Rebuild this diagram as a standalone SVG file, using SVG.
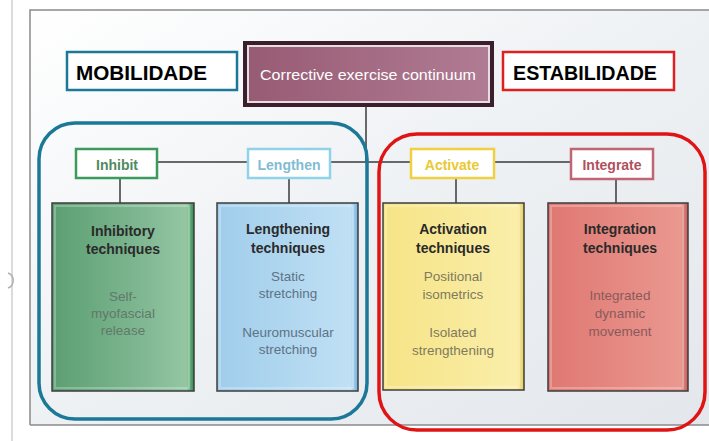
<svg xmlns="http://www.w3.org/2000/svg" width="709" height="441" viewBox="0 0 709 441">
<defs>
<linearGradient id="bg" x1="0" y1="0" x2="1" y2="1">
<stop offset="0" stop-color="#ffffff"/><stop offset="0.5" stop-color="#eef1f4"/><stop offset="1" stop-color="#e3e7eb"/>
</linearGradient>
<linearGradient id="gMauve" x1="0" y1="0" x2="1" y2="0">
<stop offset="0" stop-color="#985b74"/><stop offset="1" stop-color="#b07c93"/>
</linearGradient>
<linearGradient id="gGreen" x1="0" y1="0" x2="1" y2="0">
<stop offset="0" stop-color="#5c9f72"/><stop offset="0.6" stop-color="#7db690"/><stop offset="0.95" stop-color="#94c6a2"/><stop offset="1" stop-color="#2f8a4c"/>
</linearGradient>
<linearGradient id="gBlue" x1="0" y1="0" x2="1" y2="0">
<stop offset="0" stop-color="#a0cdeb"/><stop offset="0.95" stop-color="#c0e0f4"/><stop offset="1" stop-color="#6cb0de"/>
</linearGradient>
<linearGradient id="gYellow" x1="0" y1="0" x2="1" y2="0">
<stop offset="0" stop-color="#f6e486"/><stop offset="0.95" stop-color="#faeeaa"/><stop offset="1" stop-color="#e6cf5c"/>
</linearGradient>
<linearGradient id="gRed" x1="0" y1="0" x2="1" y2="0">
<stop offset="0" stop-color="#df7872"/><stop offset="0.95" stop-color="#ea9890"/><stop offset="1" stop-color="#c65a58"/>
</linearGradient>
<style>
.frame{fill:none;stroke:#8a8a8a;stroke-width:1.5}
.conn{stroke:#3a3a3a;stroke-width:1.5;fill:none}
.big{stroke:#3c3c3c;stroke-width:1.5}
.inset{fill:none;stroke:#ffffff;stroke-opacity:0.25;stroke-width:2}
.head{font-family:"Liberation Sans",Arial,sans-serif;font-weight:bold;font-size:14px;fill:#2a2a2a;text-anchor:middle}
.body{font-family:"Liberation Sans",Arial,sans-serif;font-size:13.5px;text-anchor:middle}
.lab{font-family:"Liberation Sans",Arial,sans-serif;font-weight:bold;font-size:14px;text-anchor:middle}
.big2{font-family:"Liberation Sans",Arial,sans-serif;font-weight:bold;font-size:21px;fill:#000}
</style>
</defs>
<rect x="0" y="0" width="709" height="441" fill="#ffffff"/>
<line x1="12" y1="0" x2="12" y2="441" stroke="#cfcfcf" stroke-width="1.5"/>
<path d="M8 273 A8 8 0 0 1 8 288" fill="none" stroke="#b0b0b0" stroke-width="1.5"/>
<rect x="30" y="10" width="690" height="415" fill="url(#bg)"/>
<path class="frame" d="M30 425 V10 H709 M30 425 H709"/>

<g id="connectors">
<line class="conn" x1="366" y1="107" x2="366" y2="162"/>
<line class="conn" x1="157" y1="162" x2="248" y2="162"/>
<line class="conn" x1="330" y1="162" x2="411" y2="162"/>
<line class="conn" x1="494" y1="162" x2="571" y2="162"/>
<line class="conn" x1="120" y1="178" x2="120" y2="203"/>
<line class="conn" x1="289" y1="178" x2="289" y2="203"/>
<line class="conn" x1="456" y1="178" x2="456" y2="203"/>
<line class="conn" x1="616" y1="179" x2="616" y2="203"/>
</g>

<g id="mobilidade">
<rect x="67" y="52" width="170" height="38" fill="#ffffff" stroke="#1b7896" stroke-width="2.5"/>
<text class="big2" x="76" y="80" textLength="131" lengthAdjust="spacingAndGlyphs">MOBILIDADE</text>
</g>

<g id="continuum">
<rect x="243" y="41" width="251" height="66" fill="#3b1f2d"/>
<rect x="247" y="45" width="243" height="58" fill="#e8dde2"/>
<rect x="249" y="47" width="239" height="54" fill="url(#gMauve)"/>
<text x="368" y="80" font-family="'Liberation Sans',Arial,sans-serif" font-size="15" fill="#ffffff" text-anchor="middle" textLength="216" lengthAdjust="spacingAndGlyphs">Corrective exercise continuum</text>
</g>

<g id="estabilidade">
<rect x="503" y="52" width="171" height="38" fill="#ffffff" stroke="#e02020" stroke-width="2.5"/>
<text class="big2" x="513" y="80" textLength="144" lengthAdjust="spacingAndGlyphs">ESTABILIDADE</text>
</g>

<g id="mobility-group">
<rect x="39" y="123" width="328" height="296" rx="36" ry="36" fill="none" stroke="#1b7896" stroke-width="3.5"/>
</g>
<g id="stability-group">
<rect x="379" y="134" width="326" height="296" rx="38" ry="38" fill="none" stroke="#e01414" stroke-width="3.5"/>
</g>

<g id="inhibit">
<rect x="76" y="149" width="81" height="29" fill="#ffffff" stroke="#3c9a5c" stroke-width="2.5"/>
<text class="lab" x="117" y="170" fill="#4f8a60">Inhibit</text>
</g>
<g id="lengthen">
<rect x="248" y="149" width="82" height="29" fill="#ffffff" stroke="#8fd2ea" stroke-width="2.5"/>
<text class="lab" x="289" y="170" fill="#80bcd4">Lengthen</text>
</g>
<g id="activate">
<rect x="411" y="149" width="83" height="29" fill="#ffffff" stroke="#f0d040" stroke-width="2.5"/>
<text class="lab" x="452" y="170" fill="#e9c931">Activate</text>
</g>
<g id="integrate">
<rect x="571" y="149" width="82" height="30" fill="#ffffff" stroke="#c06672" stroke-width="2.5"/>
<text class="lab" x="612" y="170" fill="#b0505e">Integrate</text>
</g>

<g id="inhibitory">
<rect class="big" x="52" y="203" width="142" height="188" fill="url(#gGreen)"/>
<rect class="inset" x="55" y="206" width="134" height="182"/>
<text class="head" x="123" y="236">Inhibitory</text>
<text class="head" x="123" y="254">techniques</text>
<text class="body" x="123" y="301" fill="#62786a">Self-</text>
<text class="body" x="123" y="318" fill="#62786a">myofascial</text>
<text class="body" x="123" y="335" fill="#62786a">release</text>
</g>

<g id="lengthening">
<rect class="big" x="217" y="203" width="141" height="188" fill="url(#gBlue)"/>
<rect class="inset" x="220" y="206" width="133" height="182"/>
<text class="head" x="288" y="234">Lengthening</text>
<text class="head" x="288" y="253">techniques</text>
<text class="body" x="288" y="281" fill="#5d7385">Static</text>
<text class="body" x="288" y="298" fill="#5d7385">stretching</text>
<text class="body" x="288" y="337" fill="#5d7385">Neuromuscular</text>
<text class="body" x="288" y="354" fill="#5d7385">stretching</text>
</g>

<g id="activation">
<rect class="big" x="383" y="203" width="141" height="187" fill="url(#gYellow)"/>
<rect class="inset" x="386" y="206" width="133" height="181"/>
<text class="head" x="453" y="234">Activation</text>
<text class="head" x="453" y="253">techniques</text>
<text class="body" x="453" y="281" fill="#7f7a5c">Positional</text>
<text class="body" x="453" y="299" fill="#7f7a5c">isometrics</text>
<text class="body" x="453" y="337" fill="#7f7a5c">Isolated</text>
<text class="body" x="453" y="355" fill="#7f7a5c">strengthening</text>
</g>

<g id="integration">
<rect class="big" x="548" y="203" width="140" height="188" fill="url(#gRed)"/>
<rect class="inset" x="551" y="206" width="132" height="182"/>
<text class="head" x="620" y="234">Integration</text>
<text class="head" x="620" y="253">techniques</text>
<text class="body" x="620" y="300" fill="#8a5a5a">Integrated</text>
<text class="body" x="620" y="318" fill="#8a5a5a">dynamic</text>
<text class="body" x="620" y="336" fill="#8a5a5a">movement</text>
</g>
</svg>
